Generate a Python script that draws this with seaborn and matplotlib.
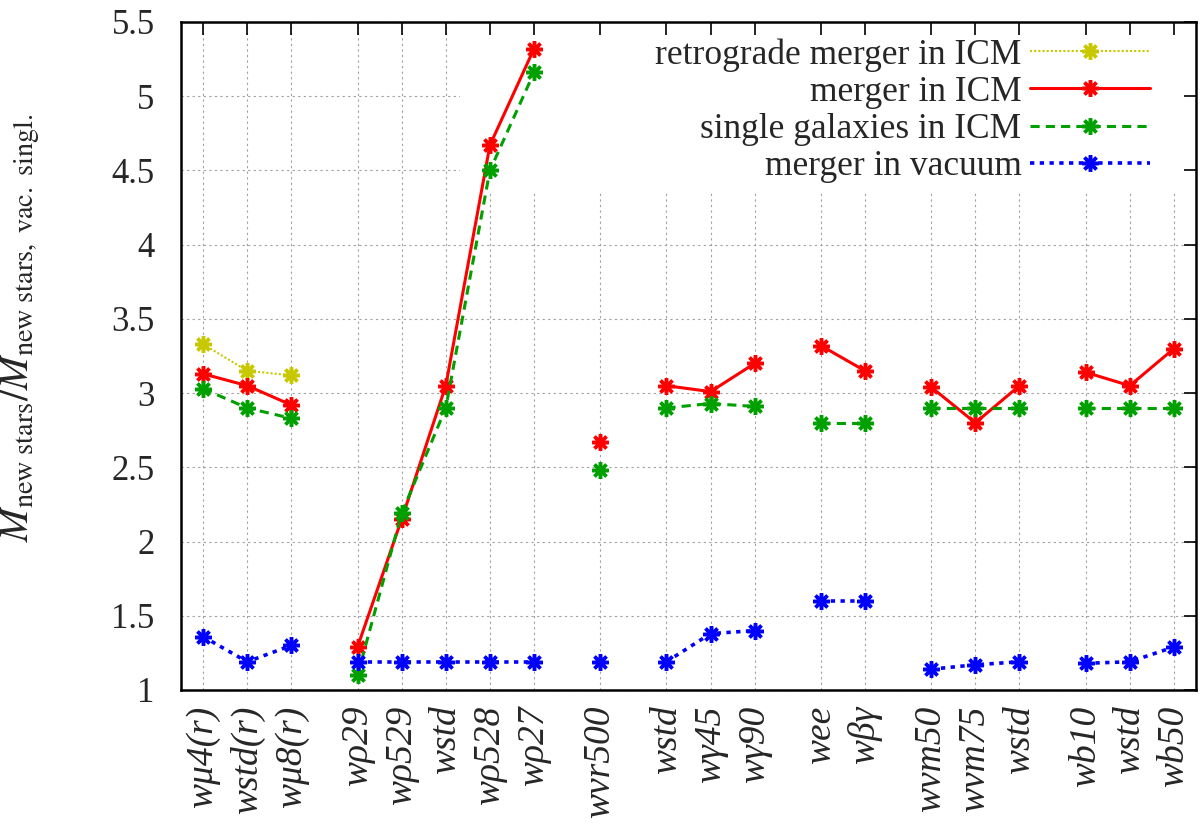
import numpy as np
import pandas as pd
import matplotlib
matplotlib.use("Agg")
import matplotlib.pyplot as plt
from matplotlib.lines import Line2D
from matplotlib.patches import Rectangle
from matplotlib.ticker import FormatStrFormatter
import seaborn as sns

# x positions (groups separated by gaps) and their labels
x_pos = [1, 2, 3, 4.5, 5.5, 6.5, 7.5, 8.5, 10, 11.5, 12.5, 13.5,
         15, 16, 17.5, 18.5, 19.5, 21, 22, 23]
x_labels = ["wμ4(r)", "wstd(r)", "wμ8(r)", "wρ29", "wρ529", "wstd", "wρ528", "wρ27",
            "wvr500", "wstd", "wγ45", "wγ90", "wee", "wβγ", "wvm50", "wvm75", "wstd",
            "wb10", "wstd", "wb50"]
groups = [0, 0, 0, 1, 1, 1, 1, 1, 2, 3, 3, 3, 4, 4, 5, 5, 5, 6, 6, 6]
y_ticks = [1, 1.5, 2, 2.5, 3, 3.5, 4, 4.5, 5, 5.5]

retro = [3.33, 3.15, 3.12] + [np.nan] * 17
merger_icm = [3.13, 3.05, 2.92, 1.29, 2.15, 3.05, 4.67, 5.32, 2.67, 3.05, 3.01, 3.20,
              3.32, 3.15, 3.04, 2.80, 3.05, 3.14, 3.05, 3.30]
single_icm = [3.03, 2.90, 2.83, 1.10, 2.19, 2.90, 4.50, 5.16, 2.48, 2.90, 2.93, 2.91,
              2.80, 2.80, 2.90, 2.90, 2.90, 2.90, 2.90, 2.90]
merger_vac = [1.36, 1.19, 1.30, 1.19, 1.19, 1.19, 1.19, 1.19, 1.19, 1.19, 1.38, 1.40,
              1.60, 1.60, 1.14, 1.17, 1.19, 1.18, 1.19, 1.29]

series = [
    ("retrograde merger in ICM", retro, "#c8c800", (0, (1, 1)), 1.5),
    ("merger in ICM", merger_icm, "#ff0000", "-", 2.2),
    ("single galaxies in ICM", single_icm, "#00a000", (0, (3, 2)), 2.2),
    ("merger in vacuum", merger_vac, "#0000ff", (0, (1.2, 1.5)), 2.6),
]

sns.set_theme(style="white")
plt.rcParams["font.family"] = ["Liberation Serif", "DejaVu Serif"]
plt.rcParams["mathtext.fontset"] = "stix"

fig = plt.figure(figsize=(12, 8.24), dpi=100)
ax = fig.add_axes([181 / 1200, 1 - 690 / 824, 1015 / 1200, 668 / 824])

# dotted grid, hidden behind the key area like gnuplot does
grid_kw = dict(color="#a0a0a0", linestyle=(0, (2, 3)), linewidth=0.8, zorder=0.5)
for xv in x_pos:
    ax.axvline(xv, **grid_kw)
for yv in y_ticks:
    ax.axhline(yv, **grid_kw)
ax.add_patch(Rectangle((0.275, 0.7455), 0.725, 0.2545, transform=ax.transAxes,
                       facecolor="white", edgecolor="none", zorder=0.8))

marker = (8, 2, 0)
handles = []
for name, vals, color, ls, lw in series:
    df = pd.DataFrame({"x": x_pos, "y": vals, "g": groups}).dropna()
    sns.lineplot(data=df, x="x", y="y", units="g", estimator=None, ax=ax,
                 color=color, linewidth=lw, linestyle=ls, marker=marker,
                 markersize=12, markeredgewidth=2.5, markeredgecolor=color,
                 sort=False, legend=False, zorder=3)
    handles.append(Line2D([], [], color=color, linewidth=lw, linestyle=ls,
                          marker=marker, markersize=12, markeredgewidth=2.5,
                          markeredgecolor=color))

ax.set_xlim(0.5, 23.5)
ax.set_ylim(1, 5.5)
ax.set_yticks(y_ticks)
ax.yaxis.set_major_formatter(FormatStrFormatter("%g"))
ax.set_xticks(x_pos)
ax.set_xticklabels(x_labels, rotation=90, fontstyle="italic", fontsize=27)
ax.tick_params(axis="both", direction="in", length=9, width=1.2, labelsize=25,
               top=True, right=True, color="black")
ax.tick_params(axis="x", pad=11, labelsize=27)
ax.tick_params(axis="y", pad=19)
ax.set_xlabel("")
ax.grid(False)
ax.set_axisbelow(False)
for sp in ax.spines.values():
    sp.set_color("black")
    sp.set_linewidth(1.8)
    sp.set_zorder(4)

ax.set_ylabel(r"$M_{\mathrm{new\ stars}}/M_{\mathrm{new\ stars,\ vac.\ singl.}}$",
              fontsize=29)
ax.yaxis.set_label_coords(-0.137, 0.542)

leg = ax.legend(handles, [s[0] for s in series], loc="upper right",
                bbox_to_anchor=(0.9547, 0.976), markerfirst=False, fontsize=25.5,
                handlelength=3.4, handletextpad=0.23, labelspacing=0.12,
                frameon=False, borderpad=0, borderaxespad=0)
leg.set_zorder(5)

fig.savefig("out.png", dpi=100)
